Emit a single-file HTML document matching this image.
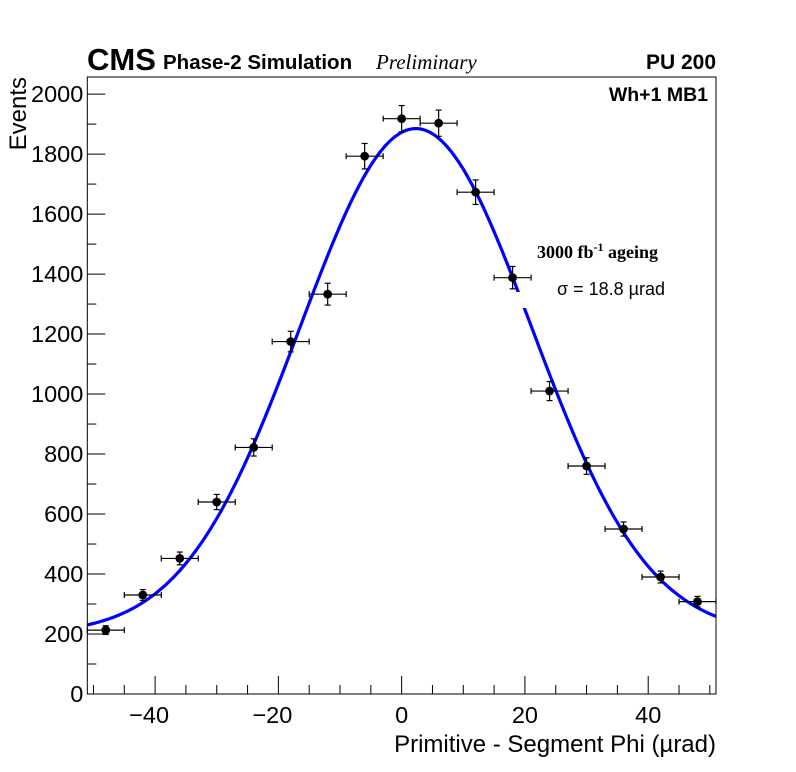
<!DOCTYPE html>
<html><head><meta charset="utf-8"><style>
body{margin:0;background:#fff;}
svg{display:block;font-family:"Liberation Sans",sans-serif;}
</style></head><body>
<svg id="chart" width="796" height="772" viewBox="0 0 796 772" xmlns="http://www.w3.org/2000/svg">
<rect width="796" height="772" fill="#fff"/>
<g id="fitg"></g>
<rect x="516" y="292" width="190" height="16" fill="#fff"/>
<g id="pts"></g>
<rect x="87.3" y="77" width="628.7" height="617" fill="none" stroke="#000" stroke-width="1"/>
<g id="axes"></g>
<text x="87" y="70" font-size="31" font-weight="bold">CMS</text>
<text x="163" y="69" font-size="20.5" font-weight="bold">Phase-2 Simulation</text>
<text x="376" y="69" font-size="21" font-style="italic" font-family="Liberation Serif,serif">Preliminary</text>
<text x="716" y="69" font-size="21" font-weight="bold" text-anchor="end">PU 200</text>
<text x="708" y="101" font-size="19.5" font-weight="bold" text-anchor="end">Wh+1 MB1</text>
<text x="537" y="258" font-size="18" font-weight="bold" font-family="Liberation Serif,serif">3000 fb<tspan dy="-7" font-size="12">-1</tspan><tspan dy="7"> ageing</tspan></text>
<text x="557" y="295" font-size="18">σ = 18.8 µrad</text>
<text transform="translate(26,77) rotate(-90)" font-size="24" text-anchor="end">Events</text>
<text x="716" y="752" font-size="24" text-anchor="end">Primitive - Segment Phi (µrad)</text>
<script>
const binCenters=[-48,-42,-36,-30,-24,-18,-12,-6,0,6,12,18,24,30,36,42,48];
const counts=[213,330,452,640,822,1175,1333,1793,1918,1903,1673,1388,1010,760,550,390,308];
const binHalfWidth=3;
const fitMean=2.3, fitSigma=18.8, fitAmp=1685, fitConst=200;
const xTicks=[-40,-20,0,20,40];
const xTickLabels=["\u221240","\u221220","0","20","40"];
const yTicks=[0,200,400,600,800,1000,1200,1400,1600,1800,2000];
const xMin=-51,xMax=51,yMin=0,yMax=2057;
const L=87.3,R=716,T=77,B=694;
const NS="http://www.w3.org/2000/svg";
function X(v){return L+(v-xMin)/(xMax-xMin)*(R-L);}
function Y(v){return B-(v-yMin)/(yMax-yMin)*(B-T);}
function mk(tag,attrs,parent){const e=document.createElementNS(NS,tag);for(const k in attrs)e.setAttribute(k,attrs[k]);parent.appendChild(e);return e;}
const fitg=document.getElementById('fitg');
let d="";
for(let i=0;i<=400;i++){const x=xMin+(xMax-xMin)*i/400;const y=fitConst+fitAmp*Math.exp(-0.5*Math.pow((x-fitMean)/fitSigma,2));d+=(i?"L":"M")+X(x).toFixed(2)+","+Y(y).toFixed(2);}
const fit=mk('path',{d:d,fill:'none',stroke:'#0000ff','stroke-width':3.2},fitg);


const pts=document.getElementById('pts');
binCenters.forEach((c,i)=>{
 const g=mk('g',{},pts);
 
 
 const x=X(c),y=Y(counts[i]),e=Math.sqrt(counts[i]);
 const x1=Math.max(L,X(c-binHalfWidth)),x2=Math.min(R,X(c+binHalfWidth));
 mk('line',{x1:x1,x2:x2,y1:y,y2:y,stroke:'#000','stroke-width':1.2},g);
 mk('line',{x1:x1,x2:x1,y1:y-3,y2:y+3,stroke:'#000','stroke-width':1.2},g);
 mk('line',{x1:x2,x2:x2,y1:y-3,y2:y+3,stroke:'#000','stroke-width':1.2},g);
 mk('line',{x1:x,x2:x,y1:Y(counts[i]+e),y2:Y(counts[i]-e),stroke:'#000','stroke-width':1.2},g);
 mk('line',{x1:x-3,x2:x+3,y1:Y(counts[i]+e),y2:Y(counts[i]+e),stroke:'#000','stroke-width':1.2},g);
 mk('line',{x1:x-3,x2:x+3,y1:Y(counts[i]-e),y2:Y(counts[i]-e),stroke:'#000','stroke-width':1.2},g);
 mk('circle',{cx:x,cy:y,r:4.4,fill:'#000'},g);
});
const axes=document.getElementById('axes');
for(let v=-50;v<=50;v+=5){const maj=v%20===0;mk('line',{x1:X(v),x2:X(v),y1:B,y2:B-(maj?18:9),stroke:'#000','stroke-width':1},axes);}
xTicks.forEach((v,i)=>{const t=mk('text',{x:X(v)-(v<0?6:0),y:B+29,'font-size':23.5,'text-anchor':'middle'},axes);t.textContent=xTickLabels[i];});
for(let v=0;v<=2050;v+=50){const maj=v%200===0;const mi=v%100===0;if(!mi&&!maj)continue;mk('line',{x1:L,x2:L+(maj?18:9),y1:Y(v),y2:Y(v),stroke:'#000','stroke-width':1},axes);}
yTicks.forEach(v=>{const t=mk('text',{x:L-4,y:Y(v)+8,'font-size':23.5,'text-anchor':'end'},axes);t.textContent=v;});
</script>
</svg>
</body></html>
